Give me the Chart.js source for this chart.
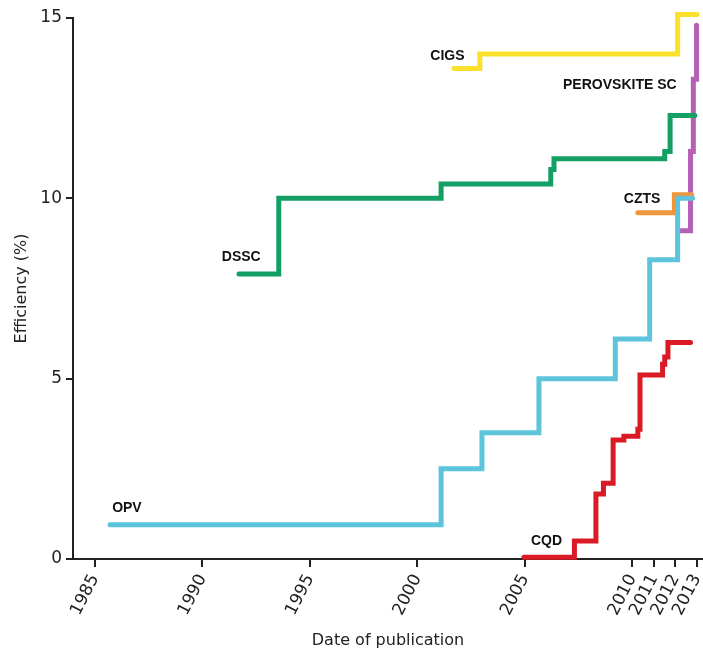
<!DOCTYPE html>
<html><head><meta charset="utf-8">
<script src="https://cdn.jsdelivr.net/npm/chart.js@4/dist/chart.umd.min.js"></script>
<style>html,body{margin:0;padding:0;background:#fff;}</style>
</head><body>
<canvas id="c" width="703" height="655"></canvas>
<script>
// ---- data ----
const xTickYears = [1985, 1990, 1995, 2000, 2005, 2010, 2011, 2012, 2013];
const yTickValues = [0, 5, 10, 15];

const dsscYears = [1991.7, 1993.55, 2001.1, 2006.2, 2006.35, 2011.5, 2011.75, 2012.9];
const dsscEff   = [7.9, 10.0, 10.4, 10.8, 11.1, 11.3, 12.3, 12.3];

const opvYears = [1985.7, 2001.1, 2003.0, 2005.65, 2009.2, 2010.8, 2012.1, 2012.8];
const opvEff   = [0.95, 2.5, 3.5, 5.0, 6.1, 8.3, 10.0, 10.0];

const cqdYears = [2004.95, 2007.3, 2008.3, 2008.65, 2009.1, 2009.6, 2010.25, 2010.35, 2011.4, 2011.5, 2011.65, 2012.7];
const cqdEff   = [0.05, 0.5, 1.8, 2.1, 3.3, 3.4, 3.6, 5.1, 5.4, 5.6, 6.0, 6.0];

const cigsYears = [2001.7, 2002.9, 2012.1, 2013.0];
const cigsEff   = [13.6, 14.0, 15.1, 15.1];

const cztsYears = [2010.25, 2011.95, 2012.75];
const cztsEff   = [9.6, 10.1, 10.1];

const perovYears = [2012.25, 2012.7, 2012.83, 2012.98];
const perovEff   = [9.1, 11.3, 13.3, 14.8];

const seriesNames = ['DSSC', 'OPV', 'CQD', 'CIGS', 'CZTS', 'PEROVSKITE SC'];
const labelYears  = [1990.9, 1985.8, 2005.28, 2000.6, 2009.6, 2006.77];
const labelEff    = [8.36, 1.42, 0.5, 13.94, 9.97, 13.14];

// ---- build ----
const pts = (xs, ys) => xs.map((x, i) => ({x: x, y: ys[i]}));
const colors = ['#14a064', '#5ec4dc', '#da1a24', '#fbe12c', '#f0963a', '#b55fb5'];
const seriesData = [
  pts(dsscYears, dsscEff), pts(opvYears, opvEff), pts(cqdYears, cqdEff),
  pts(cigsYears, cigsEff), pts(cztsYears, cztsEff), pts(perovYears, perovEff)
];

const labelPlugin = {
  id: 'seriesLabels',
  afterDatasetsDraw(chart) {
    const {ctx, scales: {x, y}} = chart;
    ctx.save();
    ctx.font = 'bold 14px "Liberation Sans", Arial, sans-serif';
    ctx.fillStyle = '#111';
    ctx.textAlign = 'left';
    ctx.textBaseline = 'middle';
    seriesNames.forEach((name, i) => {
      ctx.fillText(name, x.getPixelForValue(labelYears[i]), y.getPixelForValue(labelEff[i]));
    });
    ctx.restore();
  }
};

new Chart(document.getElementById('c'), {
  type: 'line',
  data: {
    datasets: seriesData.map((d, i) => ({
      label: seriesNames[i],
      data: d,
      borderColor: colors[i],
      backgroundColor: colors[i],
      borderWidth: 5,
      stepped: true,
      pointRadius: 0,
      fill: false,
      clip: false,
      borderCapStyle: 'round',
      borderJoinStyle: 'miter'
    }))
  },
  options: {
    responsive: false,
    animation: false,
    devicePixelRatio: 1,
    layout: {padding: {top: 18, left: 0, right: 0, bottom: 0}},
    plugins: {legend: {display: false}, tooltip: {enabled: false}},
    scales: {
      x: {
        type: 'linear',
        min: 1983.98,
        max: 2013.28,
        afterBuildTicks: s => { s.ticks = xTickYears.map(v => ({value: v})); },
        afterFit: s => { s.height = 96; s.paddingLeft = 0; s.paddingRight = 0; },
        ticks: {
          autoSkip: false, minRotation: 63, maxRotation: 63,
          font: {family: 'DejaVu Sans', size: 17}, color: '#222', padding: 4,
          callback: v => String(v)
        },
        grid: {drawOnChartArea: false, tickLength: 8, color: '#222', lineWidth: 2},
        border: {color: '#222', width: 2},
        title: {display: true, text: 'Date of publication', color: '#222',
          font: {family: 'DejaVu Sans', size: 16}, padding: {top: 0, bottom: 5}}
      },
      y: {
        type: 'linear',
        min: 0, max: 15,
        afterBuildTicks: s => { s.ticks = yTickValues.map(v => ({value: v})); },
        afterFit: s => { s.width = 73; s.paddingTop = 0; s.paddingBottom = 0; },
        ticks: {font: {family: 'DejaVu Sans', size: 17}, color: '#222', padding: 4,
          callback: v => String(v)},
        grid: {drawOnChartArea: false, tickLength: 7, color: '#222', lineWidth: 2},
        border: {color: '#222', width: 2},
        title: {display: true, text: 'Efficiency (%)', color: '#222',
          font: {family: 'DejaVu Sans', size: 16}, padding: {top: 12, bottom: 0}}
      }
    }
  },
  plugins: [labelPlugin]
});
</script>
</body></html>
